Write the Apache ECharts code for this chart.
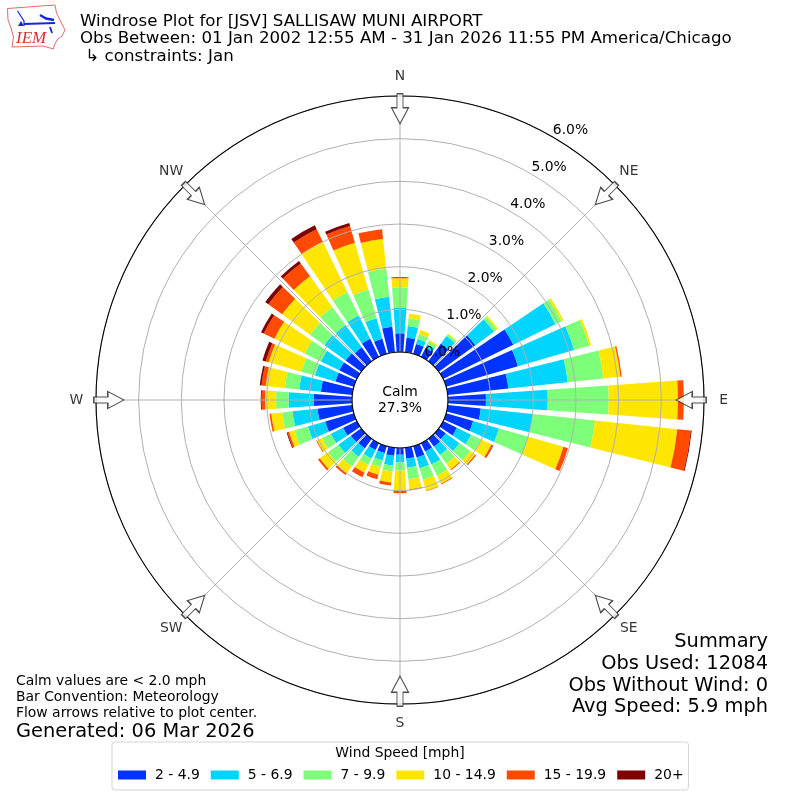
<!DOCTYPE html>
<html><head><meta charset="utf-8">
<style>html,body{margin:0;padding:0;background:#fff}#c{width:800px;height:800px}</style>
<script src="https://cdn.jsdelivr.net/npm/echarts@6/dist/echarts.min.js"></script>
</head><body><div id="c"></div>
<script>
const directions = [0,10,20,30,40,50,60,70,80,90,100,110,120,130,140,150,160,170,180,190,200,210,220,230,240,250,260,270,280,290,300,310,320,330,340,350];
const speedNames = ['2 - 4.9','5 - 6.9','7 - 9.9','10 - 14.9','15 - 19.9','20+'];
const speedColors = ['#0033ff','#00d4ff','#7dff7a','#ffe600','#ff4a00','#800000'];
const s2to5 =   [.44,.34,.24,.24,.51,1.06,1.83,1.75,1.43,.89,.78,.66,.36,.20,.23,.22,.28,.26,.16,.19,.17,.18,.28,.30,.36,.70,.82,.90,.74,.45,.46,.45,.40,.47,.37,.60];
const s5to7 =   [.61,.28,.12,.09,.22,.54,1.10,1.37,1.40,1.45,1.22,.63,.37,.40,.24,.34,.26,.21,.18,.23,.18,.22,.24,.36,.32,.42,.59,.59,.51,.50,.48,.62,.65,.61,.50,.71];
const s7to10 =  [.47,.18,.12,.07,.05,.08,.16,.37,.84,1.43,1.47,.72,.26,.31,.25,.29,.28,.27,.19,.14,.17,.17,.28,.30,.23,.33,.24,.29,.34,.33,.42,.41,.52,.61,.70,.66];
const s10to15 = [.21,.11,.10,.04,.02,.04,.05,.05,.40,1.62,1.94,.85,.27,.14,.17,.21,.27,.24,.48,.26,.18,.20,.20,.24,.13,.13,.26,.26,.45,.80,.79,.81,.89,1.31,1.14,.70];
const s15to20 = [.03,0,0,0,0,0,0,0,.03,.14,.32,.11,.04,.03,.02,.02,.01,.02,.05,.07,.11,.12,.05,.05,.02,.04,.04,.08,.10,.07,.28,.40,.37,.33,.41,.23];
const s20plus = [0,0,0,0,0,0,0,0,0,0,.02,0,.01,0,0,0,0,0,0,0,0,0,0,0,0,.02,0,.02,.04,.08,.07,.09,.07,.10,.07,0];
const speedSeries = [s2to5,s5to7,s7to10,s10to15,s15to20,s20plus];
const compassAngles = [0,45,90,135,180,225,270,315];
const compassLabels = ['N','NE','E','SE','S','SW','W','NW'];
const arrowRadius = 5.7;
const compassLabelRadius = 6.46;
const FONT = 'DejaVu Sans';
const arrowPath = 'path://M8.5 0 L17 16 L11.5 16 L11.5 30 L5.5 30 L5.5 16 L0 16 Z';
const R = [48,304];

const txt = (x,y,text,size,align) => ({type:'text',x,y,z:20,silent:true,style:{text,fontFamily:FONT,fontSize:size,fill:'#000',textAlign:align||'left',textVerticalAlign:'middle'}});
const logoRed = '#e46a6a', logoBlue = '#1428d8';
const line = (points,w,color) => ({type:'polyline',z:20,silent:true,shape:{points},style:{stroke:color||logoBlue,lineWidth:w,fill:'none'}});
const graphic = [
  {type:'polygon',z:20,silent:true,shape:{points:[[7.5,8.5],[55,5],[56.5,13],[60,20],[65,30],[62,36],[57,40],[54,46],[53.5,49],[43,46],[12,47],[13.5,37],[11,28],[8,20]]},style:{fill:'none',stroke:logoRed,lineWidth:1}},
  line([[24,24],[55,23]],2.2),
  line([[17.5,11],[24,21],[24,26]],1.2),
  {type:'polygon',z:20,silent:true,shape:{points:[[18,26],[21,21],[24,26]]},style:{fill:logoBlue}},
  line([[40,15],[46,18.5],[54,20]],2.4),
  line([[50,27],[52,33]],1.8),
  {type:'text',x:16,y:38.5,z:20,silent:true,style:{text:'IEM',fontFamily:'Liberation Serif',fontStyle:'italic',fontSize:17,fill:'#d83030',textAlign:'left',textVerticalAlign:'middle'}},
  txt(80,22,'Windrose Plot for [JSV] SALLISAW MUNI AIRPORT',16.67),
  txt(80,39,'Obs Between: 01 Jan 2002 12:55 AM - 31 Jan 2026 11:55 PM America/Chicago',16.67),
  txt(80,57,' ↳ constraints: Jan',16.67),
  txt(400,392,'Calm',13.9,'center'),
  txt(400,408,'27.3%',13.9,'center'),
  txt(768,642,'Summary',19.4,'right'),
  txt(768,664,'Obs Used: 12084',19.4,'right'),
  txt(768,686,'Obs Without Wind: 0',19.4,'right'),
  txt(768,707,'Avg Speed: 5.9 mph',19.4,'right'),
  txt(16,681,'Calm values are < 2.0 mph',13.9),
  txt(16,697,'Bar Convention: Meteorology',13.9),
  txt(16,713,'Flow arrows relative to plot center.',13.9),
  txt(16,732,'Generated: 06 Mar 2026',19.4),
  txt(400,753,'Wind Speed [mph]',13.9,'center')
];

const barSeries = speedNames.map((name,i)=>({
  name,type:'bar',coordinateSystem:'polar',polarIndex:0,stack:'wind',barWidth:'80%',z:2,
  itemStyle:{color:speedColors[i]},silent:true,animation:false,data:speedSeries[i]
}));
const option = {
  animation:false,
  backgroundColor:'#fff',
  textStyle:{fontFamily:FONT},
  polar:[
    {center:[400,400],radius:R},
    {center:[400,400],radius:R},
    {center:[400,400],radius:R}
  ],
  angleAxis:[
    {polarIndex:0,type:'category',data:directions,startAngle:95,clockwise:true,boundaryGap:true,
     axisLine:{show:false},axisTick:{show:false},axisLabel:{show:false},splitLine:{show:false}},
    {polarIndex:1,type:'value',min:0,max:360,interval:45,startAngle:90,clockwise:true,z:5,
     axisLine:{show:true,lineStyle:{color:'#000',width:1.1}},axisTick:{show:false},
     axisLabel:{show:false},
     splitLine:{show:true,lineStyle:{color:'#b0b0b0',width:1}}},
    {polarIndex:2,type:'value',min:0,max:360,startAngle:60,clockwise:true,
     axisLine:{show:false},axisTick:{show:false},axisLabel:{show:false},splitLine:{show:false}}
  ],
  radiusAxis:[
    {polarIndex:0,type:'value',min:0,max:6,axisLine:{show:false},axisTick:{show:false},axisLabel:{show:false},splitLine:{show:false}},
    {polarIndex:1,type:'value',min:0,max:6,interval:1,z:5,axisLine:{show:false},axisTick:{show:false},axisLabel:{show:false},
     splitLine:{show:true,lineStyle:{color:'#b0b0b0',width:1}}},
    {polarIndex:2,type:'value',min:0,max:6,interval:1,z:7,axisLine:{show:false},axisTick:{show:false},splitLine:{show:false},
     axisLabel:{show:true,margin:-1,color:'#000',fontSize:13.9,fontFamily:FONT,align:'left',verticalAlign:'bottom',rotate:0,formatter:v=>v.toFixed(1)+'%'}}
  ],
  legend:{
    left:112,top:742,orient:'horizontal',
    padding:[26,5,8,6],itemGap:11,itemWidth:28,itemHeight:9,icon:'rect',
    backgroundColor:'#fff',borderColor:'#d5d5d5',borderWidth:1,borderRadius:3,
    textStyle:{color:'#000',fontSize:13.9,fontFamily:FONT,padding:[0,0,0,4]},
    data:speedNames,selectedMode:false
  },
  graphic,
  series:[...barSeries,{
    name:'arrows',type:'scatter',coordinateSystem:'polar',polarIndex:1,z:6,silent:true,clip:false,
    symbol:arrowPath,symbolSize:[17,30],
    symbolRotate:(v)=>180-v[1],
    itemStyle:{color:'#fff',borderColor:'#222',borderWidth:1.2},
    data:compassAngles.map(a=>[arrowRadius,a])
  },{
    name:'compass',type:'scatter',coordinateSystem:'polar',polarIndex:1,z:6,silent:true,clip:false,
    symbol:'circle',symbolSize:1,itemStyle:{color:'rgba(0,0,0,0)'},
    label:{show:true,position:'inside',color:'#000',fontSize:13.9,fontFamily:FONT,formatter:p=>compassLabels[p.dataIndex]},
    data:compassAngles.map(a=>[compassLabelRadius,a])
  }]
};
const chart = echarts.init(document.getElementById('c'),null,{renderer:'canvas',width:800,height:800});
chart.setOption(option);
</script></body></html>
